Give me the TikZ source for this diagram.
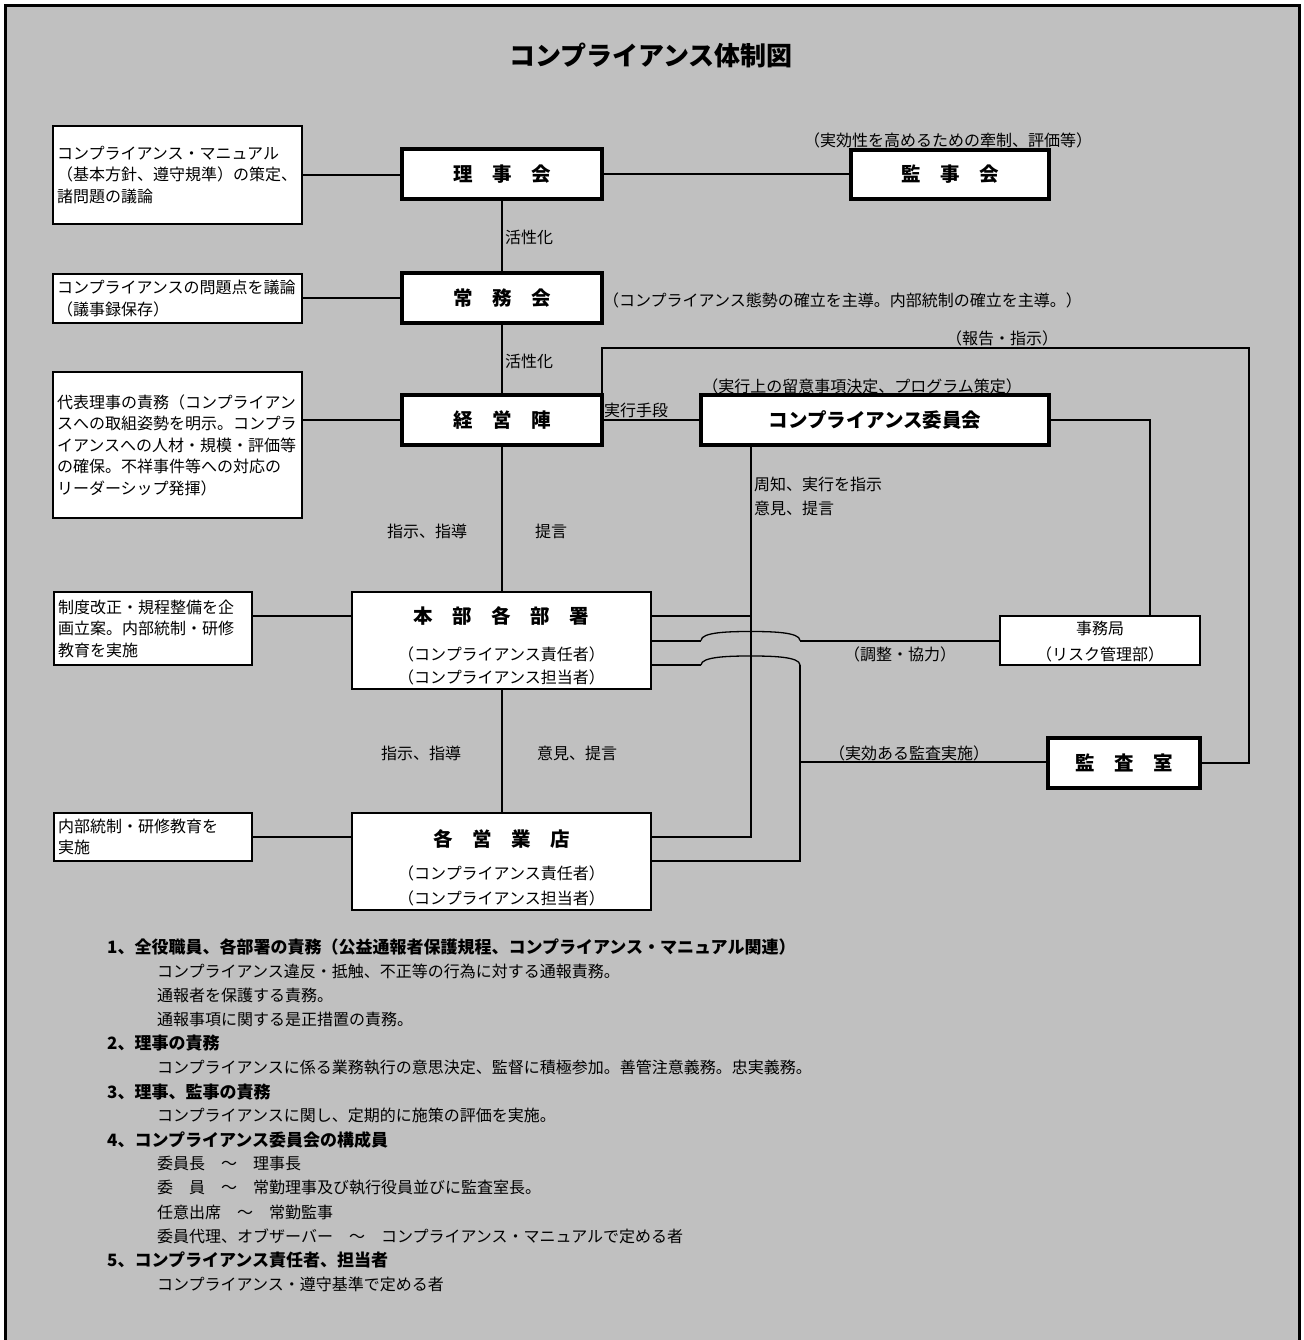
\documentclass[tikz,border=0pt]{standalone}
\usepackage{fontspec}
\setmainfont{Noto Sans CJK JP}
\usetikzlibrary{calc}
\definecolor{bggray}{RGB}{192,192,192}
\newcommand\nf{\fontsize{16}{21.5}\selectfont}
\newcommand\hf{\fontsize{19.5}{22}\selectfont\bfseries}
\newcommand\lhf{\fontsize{17}{20}\selectfont\bfseries}
\begin{document}
\begin{tikzpicture}[x=1pt,y=-1pt,
  lbox/.style={draw, fill=white, line width=2pt, inner xsep=4pt, inner ysep=0pt, align=left, font=\nf},
  mbox/.style={draw, fill=white, line width=2pt, inner sep=0pt},
  tbox/.style={draw, fill=white, line width=3.4pt, inner sep=0pt, font=\hf},
  conn/.style={line width=2pt},
  hopline/.style={line width=1.3pt},
  lbl/.style={inner sep=0pt, font=\nf},
  item/.style={inner sep=0pt, font=\nf, anchor=west},
  head/.style={inner sep=0pt, font=\lhf, anchor=west}]
\useasboundingbox (0,0) rectangle (1303,1340);
\fill[bggray] (5.5,5.5) rectangle (1299.5,1340);
\draw[line width=3pt] (5.5,1340) -- (5.5,5.5) -- (1299.5,5.5) -- (1299.5,1340);

\node[inner sep=0pt, font=\fontsize{26}{28}\selectfont\bfseries] (title) at (651,55) {コンプライアンス体制図};

% left boxes
\node[lbox, text width=241pt, minimum height=98pt] (la) at (177.5,175) {コンプライアンス・マニュアル\\（基本方針、遵守規準）の策定、\\諸問題の議論};
\node[lbox, text width=241pt, minimum height=49pt] (lb) at (177.5,298.5) {コンプライアンスの問題点を議論\\（議事録保存）};
\node[lbox, text width=241pt, minimum height=146pt] (lc) at (177.5,445) {代表理事の責務（コンプライアン\\スへの取組姿勢を明示。コンプラ\\イアンスへの人材・規模・評価等\\の確保。不祥事件等への対応の\\リーダーシップ発揮）};
\node[lbox, text width=190pt, minimum height=73pt] (ld) at (153,628.5) {制度改正・規程整備を企\\画立案。内部統制・研修\\教育を実施};
\node[lbox, text width=190pt, minimum height=48pt] (le) at (153,837) {内部統制・研修教育を\\実施};

% main boxes
\node[tbox, minimum width=200pt, minimum height=50pt] (rijikai) at (502,174) {理　事　会};
\node[tbox, minimum width=200pt, minimum height=50pt] (joumukai) at (502,298) {常　務　会};
\node[tbox, minimum width=200pt, minimum height=50pt] (keiei) at (502,420) {経　営　陣};
\node[tbox, minimum width=198pt, minimum height=49pt] (kanjikai) at (950,174.5) {監　事　会};
\node[tbox, minimum width=348pt, minimum height=50pt] (iinkai) at (875,420) {コンプライアンス委員会};
\node[tbox, minimum width=152pt, minimum height=50pt] (kansa) at (1124,763) {監　査　室};

\node[mbox, minimum width=299pt, minimum height=97pt] (honbu) at (501.5,640.5) {};
\node[inner sep=0pt, font=\hf] (honbu-t) at (501.5,616) {本　部　各　部　署};
\node[lbl] (honbu-s1) at (501.5,654) {（コンプライアンス責任者）};
\node[lbl] (honbu-s2) at (501.5,677) {（コンプライアンス担当者）};

\node[mbox, minimum width=299pt, minimum height=97pt] (eigyo) at (501.5,861.5) {};
\node[inner sep=0pt, font=\hf] (eigyo-t) at (501.5,839) {各　営　業　店};
\node[lbl] (eigyo-s1) at (501.5,873) {（コンプライアンス責任者）};
\node[lbl] (eigyo-s2) at (501.5,898) {（コンプライアンス担当者）};

\node[mbox, minimum width=200pt, minimum height=49pt] (jimu) at (1100,640.5) {};
\node[lbl] (jimu-t) at (1100,628) {事務局};
\node[lbl] (jimu-s) at (1100,654) {（リスク管理部）};

% coordinates for bends
\coordinate (rp1) at (602,348);
\coordinate (rp2) at (1249,348);
\coordinate (jt) at (1150,420);
\coordinate (jv) at (751,837);
\coordinate (r1) at (0,616);
\coordinate (r2) at (0,640.5);
\coordinate (r3) at (0,665);
\coordinate (h1a) at (701,640.5);
\coordinate (h1b) at (800,640.5);
\coordinate (h2a) at (701,665);
\coordinate (h2b) at (800,665);
\coordinate (kv) at (800,762);
\coordinate (kb) at (800,861);

% connectors
\draw[conn] (la.east) -- (la.east -| rijikai.west);
\draw[conn] (rijikai.east) -- (rijikai.east -| kanjikai.west);
\draw[conn] (rijikai.south) -- (joumukai.north);
\draw[conn] (lb.east |- joumukai.west) -- (joumukai.west);
\draw[conn] (joumukai.south) -- (keiei.north);
\draw[conn] (lc.east |- keiei.west) -- (keiei.west);
\draw[conn] (keiei.east) -- (iinkai.west);
\draw[conn] (keiei.south) -- (keiei.south |- honbu.north);
\draw[conn] (ld.east |- r1) -- (honbu.west |- r1);
\draw[conn] (honbu.south) -- (honbu.south |- eigyo.north);
\draw[conn] (le.east) -- (le.east -| eigyo.west);
\draw[conn] (rp1 |- keiei.north) -- (rp1) -- (rp2) |- (kansa.east);
\draw[conn] (iinkai.east) -- (jt) -- (jt |- jimu.north);
\draw[conn] (iinkai.south -| jv) -- (jv) -- (jv -| eigyo.east);
\draw[conn] (honbu.east |- r1) -- (jv |- r1);
\draw[conn] (honbu.east |- r2) -- (h1a);
\draw[hopline] (h1a) .. controls (701,632) and (730,631.5) .. (750.5,631.5) .. controls (771,631.5) and (800,632) .. (h1b);
\draw[conn] (h1b) -- (h1b -| jimu.west);
\draw[conn] (honbu.east |- r3) -- (h2a);
\draw[hopline] (h2a) .. controls (701,656.5) and (730,656) .. (750.5,656) .. controls (771,656) and (800,656.5) .. (h2b);
\draw[conn] (h2b) -- (kb) -- (kb -| eigyo.east);
\draw[conn] (kv) -- (kv -| kansa.west);

% labels
\node[lbl] (l-kanji) at (948,140) {（実効性を高めるための牽制、評価等）};
\node[lbl, anchor=west] (l-kasei1) at (505,237) {活性化};
\node[lbl, anchor=west] (l-kasei2) at (505,361) {活性化};
\node[lbl, anchor=west] (l-joumu) at (603,300) {（コンプライアンス態勢の確立を主導。内部統制の確立を主導。）};
\node[lbl] (l-houkoku) at (1002,338) {（報告・指示）};
\node[lbl] (l-jikkou) at (862,386) {（実行上の留意事項決定、プログラム策定）};
\node[lbl, anchor=west] (l-shudan) at (604,410) {実行手段};
\node[lbl, anchor=west] (l-shuchi) at (754,484) {周知、実行を指示};
\node[lbl, anchor=west] (l-iken1) at (754,508) {意見、提言};
\node[lbl] (l-shiji1) at (427,531) {指示、指導};
\node[lbl] (l-teigen) at (551,531) {提言};
\node[lbl] (l-shiji2) at (421,753) {指示、指導};
\node[lbl] (l-iken2) at (577,753) {意見、提言};
\node[lbl] (l-chousei) at (900,654) {（調整・協力）};
\node[lbl] (l-kansa) at (909,753) {（実効ある監査実施）};

% bottom notes
\node[head] (n1) at (107,947) {1、全役職員、各部署の責務（公益通報者保護規程、コンプライアンス・マニュアル関連）};
\node[item] (n1a) at (157,971.1) {コンプライアンス違反・抵触、不正等の行為に対する通報責務。};
\node[item] (n1b) at (157,995.2) {通報者を保護する責務。};
\node[item] (n1c) at (157,1019.3) {通報事項に関する是正措置の責務。};
\node[head] (n2) at (107,1043.4) {2、理事の責務};
\node[item] (n2a) at (157,1067.5) {コンプライアンスに係る業務執行の意思決定、監督に積極参加。善管注意義務。忠実義務。};
\node[head] (n3) at (107,1091.6) {3、理事、監事の責務};
\node[item] (n3a) at (157,1115.7) {コンプライアンスに関し、定期的に施策の評価を実施。};
\node[head] (n4) at (107,1139.8) {4、コンプライアンス委員会の構成員};
\node[item] (n4a) at (157,1163.9) {委員長　～　理事長};
\node[item] (n4b) at (157,1188) {委　員　～　常勤理事及び執行役員並びに監査室長。};
\node[item] (n4c) at (157,1212.1) {任意出席　～　常勤監事};
\node[item] (n4d) at (157,1236.2) {委員代理、オブザーバー　～　コンプライアンス・マニュアルで定める者};
\node[head] (n5) at (107,1260.3) {5、コンプライアンス責任者、担当者};
\node[item] (n5a) at (157,1284.4) {コンプライアンス・遵守基準で定める者};
\end{tikzpicture}
\end{document}
